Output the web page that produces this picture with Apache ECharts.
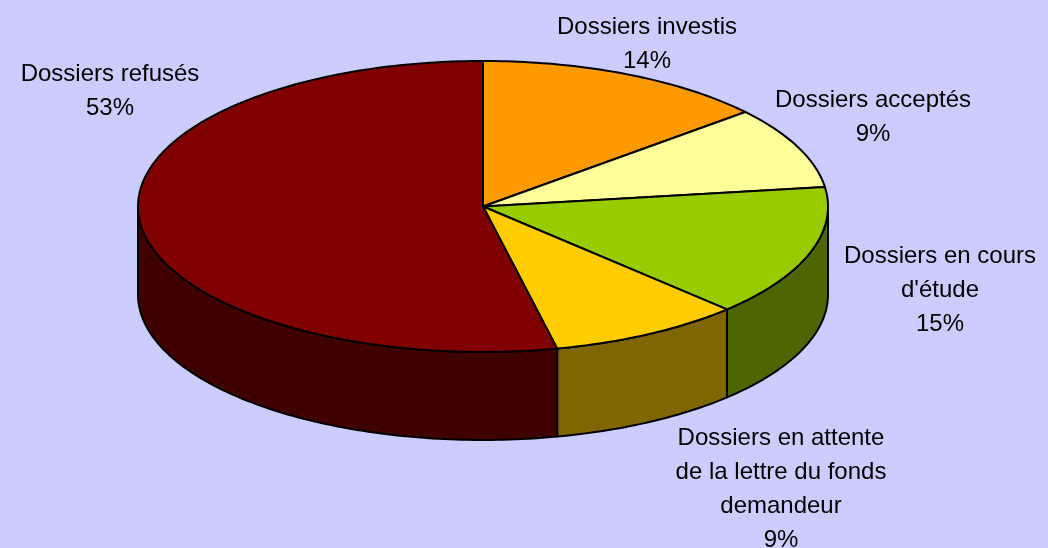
<!DOCTYPE html>
<html>
<head>
<meta charset="utf-8">
<script src="https://cdn.jsdelivr.net/npm/echarts@6/dist/echarts.min.js"></script>
<style>
  html, body { margin: 0; padding: 0; background: #ccccff; }
  #chart { width: 1048px; height: 548px; }
</style>
</head>
<body>
<div id="chart"></div>
<script>
var categories = [
  'Dossiers investis',
  'Dossiers acceptés',
  "Dossiers en cours\nd'étude",
  'Dossiers en attente\nde la lettre du fonds\ndemandeur',
  'Dossiers refusés'
];
// shares (labels round them to 14/9/15/9/53 %)
var values = [13.75, 9.1, 14.65, 9.05, 53.45];

// styling / layout (not data)
var topColors = ['#ff9900', '#ffff99', '#99cc00', '#ffcc00', '#800000'];
var sideColors = ['#804c00', '#80804c', '#4c6600', '#806600', '#400000'];
var labelPos = [[647, 10], [873, 83], [940, 239], [781, 421], [110, 57]];

(function() {
  var cx = 483, cy = 206.5, rx = 345, ry = 145.5, depth = 88;
  var total = values.reduce(function(s, v) { return s + v; }, 0);
  var starts = [], acc = 0;
  values.forEach(function(v) { starts.push(acc); acc += v; });

  function pt(t, dy) {
    return [cx + rx * Math.sin(t), cy - ry * Math.cos(t) + dy];
  }
  function arc(a, b, dy) {
    var n = Math.max(2, Math.ceil(Math.abs(b - a) / (Math.PI / 180)));
    var pts = [];
    for (var i = 0; i <= n; i++) pts.push(pt(a + (b - a) * i / n, dy));
    return pts;
  }

  var chart = echarts.init(document.getElementById('chart'), null, { renderer: 'canvas' });
  chart.setOption({
    animation: false,
    backgroundColor: '#ccccff',
    series: [{
      type: 'custom',
      coordinateSystem: 'none',
      silent: true,
      data: values.map(function(v, i) { return { name: categories[i], value: v }; }),
      renderItem: function(params, api) {
        var i = params.dataIndex;
        var v = api.value(0);
        var a = starts[i] / total * Math.PI * 2;
        var b = (starts[i] + v) / total * Math.PI * 2;
        var children = [];

        // visible front wall of the slice
        var s = Math.max(a, Math.PI / 2), e = Math.min(b, Math.PI * 1.5);
        if (s < e) {
          children.push({
            type: 'polygon',
            shape: { points: arc(s, e, 0).concat(arc(e, s, depth)) },
            style: { fill: sideColors[i], stroke: '#000', lineWidth: 2, lineJoin: 'round' }
          });
        }
        children.push({
          type: 'polygon',
          shape: { points: [[cx, cy]].concat(arc(a, b, 0)) },
          style: { fill: topColors[i], stroke: '#000', lineWidth: 2, lineJoin: 'round' }
        });
        children.push({
          type: 'text',
          style: {
            text: categories[i] + '\n' + Math.round(v / total * 100) + '%',
            x: labelPos[i][0],
            y: labelPos[i][1],
            align: 'center',
            verticalAlign: 'top',
            lineHeight: 34,
            fontSize: 24,
            fontFamily: 'Liberation Sans, Arial, sans-serif',
            fill: '#000'
          }
        });
        return { type: 'group', children: children };
      }
    }]
  });
  window.addEventListener('resize', function() { chart.resize(); });
})();
</script>
</body>
</html>
